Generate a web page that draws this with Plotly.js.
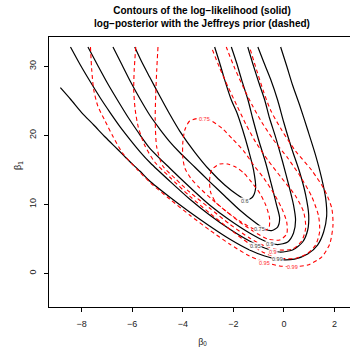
<!DOCTYPE html>
<html><head><meta charset="utf-8">
<script src="https://cdn.plot.ly/plotly-3.0.1.min.js"></script>
<style>html,body{margin:0;padding:0;overflow:hidden;background:#fff}</style>
</head><body><div id="chart" style="width:356px;height:349px"></div>
<script>
// Contour levels (confidence levels) and tick values
const levels = [0.6, 0.75, 0.9, 0.95, 0.99];
const xTicks = [-8, -6, -4, -2, 0, 2];
const yTicks = [0, 10, 20, 30];

// Log-likelihood contours (solid): beta0 / beta1
const ll060_b0 = [-5.90,-5.62,-5.31,-4.91,-4.52,-4.12,-3.53,-2.94,-2.34,-1.83,-1.47,-1.24,-1.12,-1.20,-1.40,-1.63,-1.87,-2.08,-2.34,-2.54,-2.74];
const ll060_b1 = [32.80,30.62,28.45,25.70,23.09,20.62,17.58,14.97,12.80,11.35,10.62,11.06,12.36,14.97,17.87,20.77,23.38,25.12,28.01,30.48,32.80];
const ll075_b0 = [-6.76,-6.41,-6.06,-5.70,-5.31,-4.91,-4.52,-4.12,-3.53,-2.94,-2.34,-1.75,-1.16,-0.76,-0.49,-0.25,-0.17,-0.29,-0.49,-0.72,-1.00,-1.24,-1.42,-1.67,-1.87,-2.08];
const ll075_b1 = [32.80,30.26,27.72,25.33,22.94,20.91,19.10,17.51,15.41,13.30,11.20,9.17,7.43,6.42,6.20,6.71,8.01,9.90,12.80,15.99,19.32,22.51,25.12,28.01,30.48,32.80];
const ll090_b0 = [-7.75,-7.35,-6.96,-6.56,-6.17,-5.77,-5.31,-4.52,-3.73,-2.94,-2.15,-1.36,-0.76,-0.25,0.15,0.38,0.46,0.38,0.19,-0.05,-0.33,-0.57,-0.76,-1.00,-1.24,-1.43];
const ll090_b1 = [32.80,30.04,27.43,24.97,22.65,20.48,18.16,15.26,12.51,9.90,7.72,5.84,4.68,4.17,4.54,5.84,7.72,9.90,12.80,16.13,19.75,22.51,25.12,27.72,30.48,32.80];
const ll095_b0 = [-8.44,-8.05,-7.65,-7.26,-6.86,-6.47,-6.07,-5.68,-5.28,-4.52,-3.73,-2.94,-2.15,-1.36,-0.76,-0.17,0.34,0.74,0.94,0.98,0.86,0.62,0.30,-0.01,-0.25,-0.53,-0.80,-1.03];
const ll095_b1 = [32.80,30.19,27.72,25.41,23.23,21.20,19.32,17.58,15.99,13.38,10.77,8.45,6.42,4.68,3.67,3.09,3.38,4.54,6.28,8.45,11.35,14.68,18.16,21.93,25.12,28.16,30.62,32.80];
const ll099_b0 = [-8.84,-8.43,-8.00,-7.52,-7.05,-6.57,-6.14,-5.70,-5.31,-4.52,-3.73,-2.94,-2.15,-1.36,-0.76,-0.17,0.42,0.94,1.33,1.57,1.69,1.65,1.49,1.25,0.94,0.62,0.34,0.11,-0.13];
const ll099_b1 = [26.90,25.19,23.30,21.49,19.68,17.94,16.35,14.83,13.38,11.06,8.88,6.86,4.97,3.38,2.51,2.00,2.07,2.80,4.10,5.99,8.30,10.91,13.81,17.14,20.77,24.39,27.29,30.04,32.80];

// Log-posterior with the Jeffreys prior contours (dashed)
const lp060_b0 = [-2.54,-2.86,-2.94,-2.90,-2.70,-2.30,-1.75,-1.28,-0.88,-0.60,-0.57,-0.72,-0.96,-1.28,-1.59,-1.91,-2.23,-2.54];
const lp060_b1 = [15.84,14.97,13.52,11.78,10.33,9.03,7.58,6.57,6.13,6.57,8.01,9.90,11.64,13.23,14.54,15.41,15.84,15.84];
const lp075_b0 = [-3.33,-3.73,-3.92,-4.00,-4.00,-3.92,-3.69,-3.33,-2.86,-2.34,-1.75,-1.16,-0.64,-0.17,0.11,0.11,-0.09,-0.41,-0.80,-1.20,-1.59,-2.03,-2.46,-2.86,-3.13,-3.33];
const lp075_b1 = [22.51,22.07,20.77,18.88,16.86,15.26,13.81,12.36,10.77,9.17,7.43,5.99,4.97,4.83,5.70,7.43,9.46,11.64,13.81,15.70,17.72,19.46,21.06,22.07,22.51,22.51];
const lp090_b0 = [-4.98,-5.03,-5.07,-5.09,-5.03,-4.79,-4.32,-3.73,-2.94,-2.15,-1.36,-0.76,-0.17,0.34,0.70,0.86,0.78,0.46,-0.09,-0.64,-1.12,-1.51,-1.87,-2.19,-2.54,-2.87];
const lp090_b1 = [32.80,29.46,25.84,22.22,18.30,15.55,13.81,11.78,9.46,7.14,5.12,3.96,3.38,3.52,4.68,6.57,8.88,11.20,13.81,16.42,19.03,21.64,24.39,26.86,29.75,32.80];
const lp095_b0 = [-5.86,-5.92,-5.94,-5.88,-5.76,-5.51,-5.11,-4.52,-3.73,-2.94,-2.15,-1.36,-0.76,-0.17,0.42,0.90,1.25,1.41,1.37,1.09,0.66,0.15,-0.41,-0.88,-1.28,-1.59,-1.95,-2.28];
const lp095_b1 = [32.80,29.46,26.57,23.67,21.20,18.59,16.13,13.96,11.20,8.74,6.42,4.25,2.94,2.22,2.14,2.80,4.10,5.99,8.30,11.20,13.96,16.71,19.32,21.93,24.54,26.86,29.75,32.80];
const lp099_b0 = [-7.65,-7.60,-7.52,-7.36,-7.09,-6.77,-6.38,-5.78,-5.27,-4.52,-3.73,-2.94,-2.15,-1.36,-0.76,-0.17,0.42,0.94,1.49,1.81,1.94,1.89,1.61,1.09,0.46,-0.09,-0.53,-0.80,-1.08,-1.36];
const lp099_b1 = [32.80,29.46,26.57,24.25,22.22,19.90,17.43,14.97,13.09,10.77,8.45,6.28,4.25,2.51,1.64,1.06,0.99,1.20,2.36,4.25,7.00,9.46,12.07,14.97,17.72,20.77,23.67,26.28,29.46,32.80];

// Contour label positions (beta0, beta1)
const llLab_b0 = [-1.55, -0.96, -0.57, -1.12, -0.25];
const llLab_b1 = [10.54, 6.46, 4.29, 3.96, 2.07];
const lpLabText = ['0.75', '0.9', '0.95', '0.99'];
const lpLab_b0 = [-3.13, -0.45, -0.76, 0.34];
const lpLab_b1 = [22.35, 3.13, 1.54, 0.99];

const solid = [[ll060_b0,ll060_b1],[ll075_b0,ll075_b1],[ll090_b0,ll090_b1],[ll095_b0,ll095_b1],[ll099_b0,ll099_b1]];
const dashed = [[lp060_b0,lp060_b1],[lp075_b0,lp075_b1],[lp090_b0,lp090_b1],[lp095_b0,lp095_b1],[lp099_b0,lp099_b1]];

const traces = [];
solid.forEach(function(c){
  traces.push({type:'scatter', mode:'lines', x:c[0], y:c[1], hoverinfo:'skip',
    line:{color:'#000000', width:1.2, shape:'spline', smoothing:0.7}});
});
dashed.forEach(function(c){
  traces.push({type:'scatter', mode:'lines', x:c[0], y:c[1], hoverinfo:'skip',
    line:{color:'#ff0000', width:1.1, dash:'4px,3px', shape:'spline', smoothing:0.7}});
});

const annotations = [];
levels.forEach(function(lv, i){
  annotations.push({x:llLab_b0[i], y:llLab_b1[i], xref:'x', yref:'y', text:String(lv), showarrow:false,
    font:{size:5.5, color:'#444', family:'Liberation Sans, Arial, sans-serif'}, bgcolor:'rgba(255,255,255,0.9)', borderpad:0});
});
lpLabText.forEach(function(t, i){
  annotations.push({x:lpLab_b0[i], y:lpLab_b1[i], xref:'x', yref:'y', text:t, showarrow:false,
    font:{size:5.5, color:'#ff3030', family:'Liberation Sans, Arial, sans-serif'}, bgcolor:'rgba(255,255,255,0.9)', borderpad:0});
});
// y axis title, placed where the reference draws it
annotations.push({x:-31/307, y:(307-166)/270, xref:'paper', yref:'paper', text:'β<sub>1</sub>', showarrow:false,
  textangle:-90, xanchor:'center', yanchor:'middle', font:{size:9, color:'#222', family:'Liberation Sans, Arial, sans-serif'}});

const layout = {
  width:356, height:349,
  margin:{l:49, r:0, t:37, b:42, pad:0},
  paper_bgcolor:'#ffffff', plot_bgcolor:'#ffffff',
  showlegend:false,
  font:{family:'Liberation Sans, Arial, sans-serif', size:9, color:'#000'},
  title:{text:'<b>Contours of the log−likelihood (solid)</b><br><b>log−posterior with the Jeffreys prior (dashed)</b>',
    x:202/356, xref:'container', xanchor:'center', y:1-14/349, yref:'container', yanchor:'top',
    font:{size:10, color:'#000', family:'Liberation Sans, Arial, sans-serif'}},
  xaxis:{range:[-9.29,2.85], tickmode:'array', tickvals:xTicks, ticks:'outside', ticklen:4, tickwidth:1, tickcolor:'#000',
    showline:true, linecolor:'#000', linewidth:1, mirror:true, showgrid:false, zeroline:false,
    ticklabelstandoff:4, tickfont:{size:9, color:'#222'},
    title:{text:'β<sub>0</sub>', standoff:10, font:{size:9, color:'#222'}}},
  yaxis:{range:[-4.88,34.25], tickmode:'array', tickvals:yTicks, ticks:'outside', ticklen:4, tickwidth:1, tickcolor:'#000',
    showline:true, linecolor:'#000', linewidth:1, mirror:true, showgrid:false, zeroline:false,
    tickangle:-90, ticklabelstandoff:4, tickfont:{size:9, color:'#222'}},
  annotations:annotations
};

Plotly.newPlot('chart', traces, layout, {displayModeBar:false, staticPlot:true});
</script></body></html>
